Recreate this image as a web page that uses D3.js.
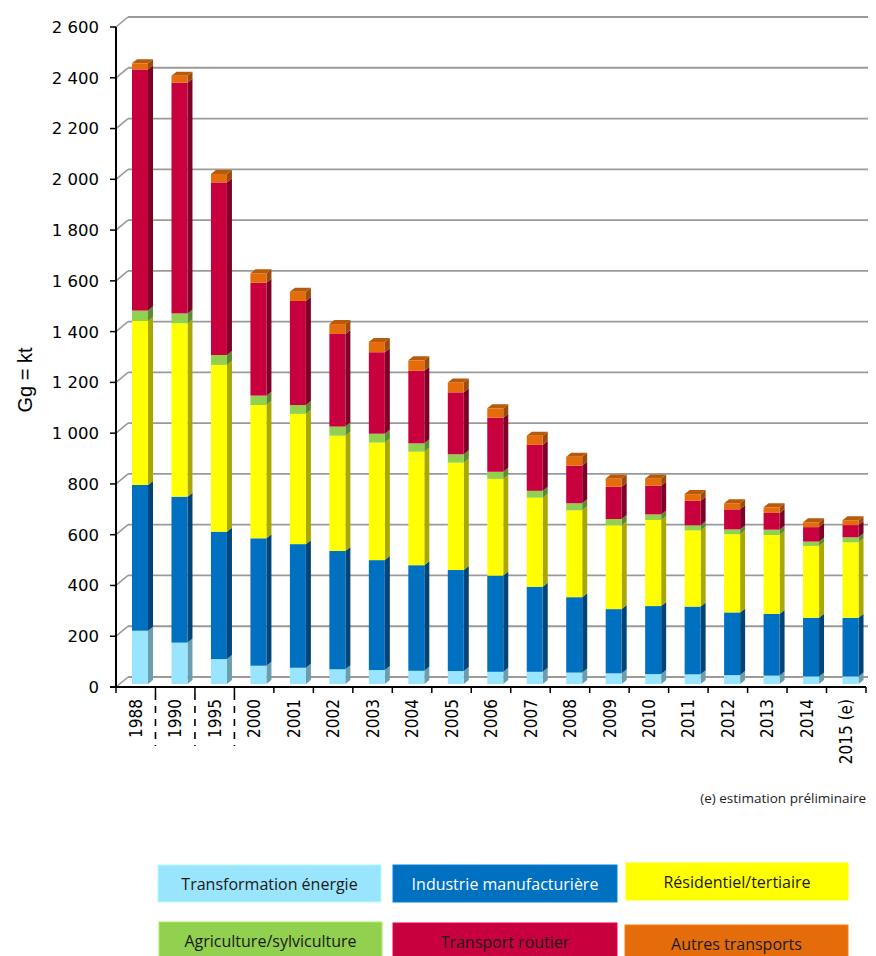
<!DOCTYPE html>
<html>
<head>
<meta charset="utf-8">
<script src="https://cdn.jsdelivr.net/npm/d3@7"></script>
<style>
  html, body { margin: 0; padding: 0; background: #fff; }
  svg { display: block; }
</style>
</head>
<body>
<svg id="chart" width="876" height="956"></svg>
<script>
// ---- data ----
const categories = ["1988","1990","1995","2000","2001","2002","2003","2004","2005","2006","2007","2008","2009","2010","2011","2012","2013","2014","2015 (e)"];
const seriesNames = ["Transformation énergie","Industrie manufacturière","Résidentiel/tertiaire","Agriculture/sylviculture","Transport routier","Autres transports"];
const transformation = [210,163,98,72,64,58,55,52,51,48,48,45,42,39,38,35,33,30,30];
const industrie      = [574,575,502,502,487,466,433,416,398,379,335,297,253,268,267,247,243,231,231];
const residentiel    = [646,683,657,525,513,454,463,447,423,381,351,342,330,339,300,308,311,283,297];
const agriculture    = [41,39,39,37,35,36,35,33,33,28,27,28,25,22,20,19,21,17,20];
const transportRoutier = [950,909,680,445,410,365,321,286,244,213,181,148,127,113,97,79,66,57,48];
const autresTransports = [24,27,33,37,36,39,40,41,39,37,36,35,33,29,26,24,22,19,19];
const yTicks = [0,200,400,600,800,1000,1200,1400,1600,1800,2000,2200,2400,2600];
const separatorsAfter = ["1988","1990","1995"];

const seriesValues = [transformation, industrie, residentiel, agriculture, transportRoutier, autresTransports];
const frontColors = ["#99E5FD","#0070C0","#FFFF00","#92D050","#C9003E","#E46C0A"];
const sideColors  = ["#6A9EAE","#004478","#A8A800","#5E8A36","#7C0028","#9A4C0C"];
const topColors   = ["#7FC3D8","#00589C","#D4D400","#7AB545","#A30034","#B85A08"];
const legendText  = ["#1a1a1a","#ffffff","#1a1a1a","#1a1a1a","#1a1a1a","#1a1a1a"];

// ---- layout ----
const svg = d3.select("#chart");
const x0 = 116, x1 = 866, yBottom = 687, yTop = 27;
const DX = 12, DY = -10;           // wall depth
const BDX = 5, BDY = -4;           // bar depth
const barShift = 3;                // bar front plane offset (px up)

const x = d3.scaleBand().domain(categories).range([x0, x1]).paddingInner(0).paddingOuter(0);
const y = d3.scaleLinear().domain([0, 2600]).range([yBottom, yTop]);
const yb = v => y(v) - barShift;

const fmt = v => d3.format(",")(v).replace(/,/g, " ");

// gridlines (back wall) + diagonal lines
const grid = svg.append("g");
yTicks.forEach(v => {
  grid.append("line")
    .attr("x1", x0).attr("y1", y(v)).attr("x2", x0 + DX).attr("y2", y(v) + DY)
    .attr("stroke", "#9a9a9a").attr("stroke-width", 1.6);
  grid.append("line")
    .attr("x1", x0 + DX).attr("y1", y(v) + DY).attr("x2", 868).attr("y2", y(v) + DY)
    .attr("stroke", "#9a9a9a").attr("stroke-width", 1.8);
});

// stacked data
const rows = categories.map((c, i) => {
  const r = { cat: c };
  seriesNames.forEach((s, j) => r[s] = seriesValues[j][i]);
  return r;
});
const stack = d3.stack().keys(seriesNames)(rows);

const barsG = svg.append("g");
categories.forEach((c, i) => {
  const fx = x(c) + 16, fw = 16, right = fx + fw;
  const g = barsG.append("g");
  stack.forEach((layer, j) => {
    const d = layer[i];
    const yt = yb(d[1]), ybo = yb(d[0]);
    g.append("polygon")
      .attr("points", [[right, yt],[right + BDX, yt + BDY],[right + BDX, ybo + BDY],[right, ybo]].map(p => p.join(",")).join(" "))
      .attr("fill", sideColors[j]);
    g.append("rect")
      .attr("x", fx).attr("y", yt).attr("width", fw).attr("height", Math.max(0, ybo - yt))
      .attr("fill", frontColors[j]);
    if (j === stack.length - 1) {
      g.append("polygon")
        .attr("points", [[fx, yt],[fx + BDX, yt + BDY],[right + BDX, yt + BDY],[right, yt]].map(p => p.join(",")).join(" "))
        .attr("fill", topColors[j]);
    }
  });
});

// axes
const axes = svg.append("g");
axes.append("line").attr("x1", x0).attr("y1", yTop).attr("x2", x0).attr("y2", yBottom + 1)
  .attr("stroke", "#000").attr("stroke-width", 2);
axes.append("line").attr("x1", x0 - 6).attr("y1", yBottom).attr("x2", x1).attr("y2", yBottom)
  .attr("stroke", "#000").attr("stroke-width", 2);
yTicks.forEach(v => {
  axes.append("line").attr("x1", x0 - 6).attr("y1", y(v)).attr("x2", x0).attr("y2", y(v))
    .attr("stroke", "#000").attr("stroke-width", 1.5);
  axes.append("text").attr("x", 99).attr("y", y(v)).attr("dy", "0.36em")
    .attr("text-anchor", "end")
    .style("font-family", "DejaVu Sans").style("font-size", "16.5px").attr("fill", "#000")
    .text(fmt(v));
});
const edges = categories.map(c => x(c)).concat([x1]);
edges.forEach(e => {
  axes.append("line").attr("x1", e).attr("y1", yBottom).attr("x2", e).attr("y2", yBottom + 6)
    .attr("stroke", "#000").attr("stroke-width", 1.5);
});
separatorsAfter.forEach(c => {
  const e = x(c) + x.bandwidth();
  axes.append("line").attr("x1", e).attr("y1", yBottom + 6).attr("x2", e).attr("y2", 746)
    .attr("stroke", "#000").attr("stroke-width", 1.6).attr("stroke-dasharray", "7,6");
});
categories.forEach(c => {
  const cx = x(c) + x.bandwidth() / 2;
  axes.append("text")
    .attr("transform", `translate(${cx},699) rotate(-90)`)
    .attr("dy", "0.36em").attr("text-anchor", "end")
    .style("font-family", "DejaVu Sans Condensed, DejaVu Sans").style("font-size", "17px").attr("fill", "#000")
    .text(c);
});

// y title
svg.append("text").attr("transform", "translate(25,380) rotate(-90)")
  .attr("text-anchor", "middle").attr("dy", "0.36em")
  .style("font-family", "Liberation Sans, Arial").style("font-size", "20px").attr("fill", "#000")
  .text("Gg = kt");

// note
svg.append("text").attr("x", 866).attr("y", 803).attr("text-anchor", "end")
  .style("font-family", "Open Sans").style("font-size", "13.5px").attr("fill", "#222")
  .text("(e) estimation préliminaire");

// legend
const legendPos = [
  {x:158, y:865, w:223, h:37}, {x:393, y:865, w:224, h:37}, {x:626, y:863, w:222, h:37},
  {x:159, y:922, w:223, h:40}, {x:393, y:923, w:224, h:40}, {x:625, y:925, w:223, h:40}
];
const lg = svg.append("g");
seriesNames.forEach((s, j) => {
  const p = legendPos[j];
  lg.append("rect").attr("x", p.x).attr("y", p.y).attr("width", p.w).attr("height", p.h)
    .attr("fill", frontColors[j]).attr("stroke", d3.color(frontColors[j]).brighter(0.4)).attr("stroke-width", 1);
  lg.append("text").attr("x", p.x + p.w / 2).attr("y", p.y + 19).attr("dy", "0.36em")
    .attr("text-anchor", "middle")
    .style("font-family", "Open Sans").style("font-size", "16px").attr("fill", legendText[j])
    .text(s);
});
</script>
</body>
</html>
